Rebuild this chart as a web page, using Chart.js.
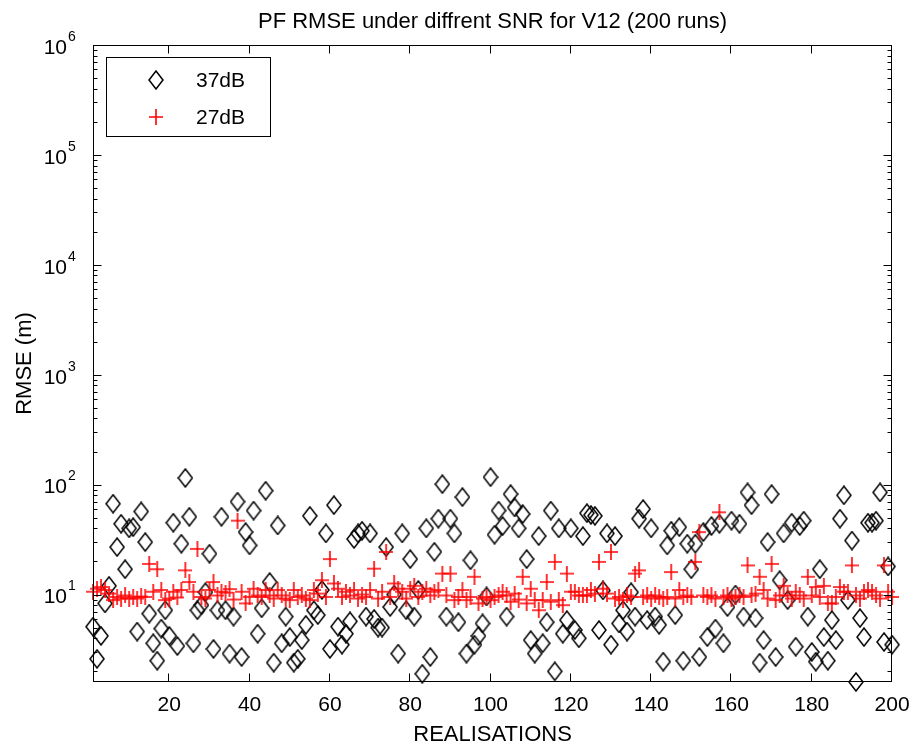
<!DOCTYPE html>
<html>
<head>
<meta charset="utf-8">
<script src="https://cdn.jsdelivr.net/npm/chart.js@4/dist/chart.umd.min.js"></script>
<style>
  html, body { margin: 0; padding: 0; background: #fff; }
  #c { display: block; }
</style>
</head>
<body>
<canvas id="c" width="920" height="751"></canvas>
<script>
// Realisation index for each of the 200 runs
const runs = [];
for (let i = 1; i <= 200; i++) runs.push(i);

// RMSE per realisation, 37 dB SNR
const rmse37 = [
  5.1, 2.6, 4.2, 8.3, 12, 67, 27, 44, 17, 40,
  41, 4.6, 57, 30, 6.7, 3.6, 2.5, 4.9, 7.2, 4.2,
  45, 3.4, 29, 115, 51, 3.6, 7.2, 8.0, 10.5, 23.5,
  3.2, 7.2, 51, 7.2, 2.9, 6.3, 70, 2.7, 37, 28,
  58, 4.4, 7.5, 88, 13, 2.4, 42.5, 3.6, 6.3, 4.1,
  2.4, 2.6, 3.85, 5.3, 52, 7.2, 6.5, 11, 36, 3.2,
  65, 5.1, 3.5, 4.4, 5.7, 32, 36, 38, 6.3, 36,
  6.0, 5.0, 5.0, 27, 7.7, 10, 2.9, 36, 7.2, 21,
  6.3, 11, 1.9, 40, 2.7, 24.5, 49, 101, 6.3, 49,
  36, 5.6, 77, 2.9, 20.5, 3.5, 4.2, 5.45, 9.6, 117,
  35, 58, 42, 6.3, 82, 62, 40, 54, 21, 3.85,
  2.9, 34, 3.6, 5.6, 58, 2.0, 40, 4.4, 5.85, 40,
  4.75, 4.0, 34, 55, 53, 52, 4.75, 10.9, 36, 3.5,
  34, 5.45, 7.2, 4.6, 10.5, 6.3, 49, 60, 5.85, 40,
  6.3, 5.3, 2.45, 28, 38, 6.5, 41, 2.5, 29, 17,
  29, 2.7, 37, 4.1, 42, 4.9, 44, 3.6, 7.7, 47,
  10, 44, 6.3, 85, 65, 6.1, 2.4, 3.85, 30, 82,
  2.7, 13.5, 36, 8.9, 45, 3.35, 42, 47, 6.3, 3.0,
  2.45, 17, 4.1, 2.5, 5.85, 3.85, 49, 80, 8.9, 31,
  1.6, 6.1, 4.1, 45, 45, 47, 85, 3.7, 18, 3.5
];

// RMSE per realisation, 27 dB SNR
const rmse27 = [
  10.6, 11.3, 11.7, 11.0, 10.2, 8.9, 9.5, 9.2, 9.8, 9.2,
  9.5, 9.2, 9.6, 9.5, 19, 10.6, 17, 11.0, 8.9, 9.2,
  10.6, 9.4, 11.0, 16.6, 13, 10.6, 26, 9.5, 9.2, 11.0,
  13, 9.8, 10.6, 10.4, 11.2, 9.0, 47, 10.6, 8.3, 9.5,
  11.3, 9.8, 9.5, 11.0, 9.8, 9.2, 11.0, 9.8, 9.2, 8.9,
  11.0, 9.5, 9.8, 9.2, 8.9, 11.0, 10.2, 13.5, 9.5, 21,
  12.6, 11.3, 9.5, 10.6, 9.8, 11.0, 9.2, 10.0, 9.5, 11.0,
  17.2, 9.2, 10.6, 24.4, 9.5, 12.6, 11.3, 10.6, 9.2, 11.3,
  12.0, 9.5, 10.6, 11.3, 9.8, 10.6, 11.0, 15.5, 9.8, 15.5,
  8.9, 9.5, 11.0, 8.9, 9.5, 14.5, 8.3, 9.2, 9.5, 8.9,
  9.5, 9.8, 10.6, 9.8, 8.6, 10.2, 9.0, 14.5, 8.3, 11.3,
  8.9, 7.2, 8.9, 13, 8.6, 19.8, 8.9, 8.0, 15.5, 10.6,
  10.6, 9.8, 9.8, 9.8, 11.0, 10.2, 19.8, 11.3, 10.2, 24.4,
  9.2, 9.5, 8.9, 9.8, 9.5, 15.5, 16.6, 9.5, 9.8, 9.2,
  9.8, 9.5, 9.2, 9.5, 16, 9.2, 11.0, 9.5, 9.8, 9.5,
  19.8, 37, 9.8, 9.5, 9.8, 9.2, 56, 9.5, 9.8, 9.2,
  9.5, 9.8, 9.5, 18.4, 9.8, 10.2, 14.5, 11.0, 9.2, 19,
  8.9, 9.8, 12.0, 9.8, 9.2, 10.6, 9.8, 9.2, 14.5, 9.8,
  11.7, 9.5, 12.0, 8.3, 8.3, 9.5, 11.7, 10.6, 10.6, 18.4,
  9.8, 9.2, 10.6, 11.0, 10.6, 9.8, 9.2, 18.4, 10.6, 9.5
];

const seriesLabels = ['37dB', '27dB'];
const xTickValues = [20, 40, 60, 80, 100, 120, 140, 160, 180, 200];
const yDecades = [1, 2, 3, 4, 5, 6];
const titleText = 'PF RMSE under diffrent SNR for V12 (200 runs)';
const xTitle = 'REALISATIONS';
const yTitle = 'RMSE (m)';

const FONT = "'Liberation Sans', Arial, Helvetica, sans-serif";

// Marker glyphs: hollow tall diamond and plus
function diamondGlyph() {
  const c = document.createElement('canvas');
  c.width = 16; c.height = 20;
  const g = c.getContext('2d');
  g.strokeStyle = '#000';
  g.lineWidth = 1.5;
  g.beginPath();
  g.moveTo(8, 1); g.lineTo(15, 10); g.lineTo(8, 19); g.lineTo(1, 10);
  g.closePath();
  g.stroke();
  return c;
}
function plusGlyph() {
  const c = document.createElement('canvas');
  c.width = 14; c.height = 16;
  const g = c.getContext('2d');
  g.strokeStyle = '#ff0000';
  g.lineWidth = 1.6;
  g.beginPath();
  g.moveTo(0, 8); g.lineTo(14, 8);
  g.moveTo(7, 0); g.lineTo(7, 16);
  g.stroke();
  return c;
}
const diamond = diamondGlyph();
const plus = plusGlyph();

const toPoints = vals => vals.map((v, i) => ({ x: runs[i], y: v }));

// Box, inward ticks, power-of-ten labels and the legend
const matlabAxes = {
  id: 'matlabAxes',
  afterDatasetsDraw(chart) {
    const { ctx, chartArea: a, scales } = chart;
    const xs = scales.x, ys = scales.y;
    const L = Math.round(a.left) + 0.5, R = Math.round(a.right) - 0.5;
    const T = Math.round(a.top) + 0.5, B = Math.round(a.bottom) - 0.5;
    ctx.save();
    ctx.strokeStyle = '#000';
    ctx.lineWidth = 1;
    ctx.strokeRect(L, T, R - L, B - T);
    ctx.beginPath();
    xTickValues.forEach(v => {
      const px = Math.round(xs.getPixelForValue(v)) - 0.5;
      ctx.moveTo(px, B); ctx.lineTo(px, B - 8);
      ctx.moveTo(px, T); ctx.lineTo(px, T + 8);
    });
    for (let e = 0; e <= 6; e++) {
      for (let m = 1; m <= 9; m++) {
        const v = m * Math.pow(10, e);
        if (v < ys.min || v > ys.max) continue;
        const py = Math.round(ys.getPixelForValue(v)) + 0.5;
        const len = m === 1 ? 8 : 4;
        ctx.moveTo(L, py); ctx.lineTo(L + len, py);
        ctx.moveTo(R, py); ctx.lineTo(R - len, py);
      }
    }
    ctx.stroke();

    // y labels: 10 with raised exponent
    ctx.fillStyle = '#000';
    yDecades.forEach(k => {
      const py = ys.getPixelForValue(Math.pow(10, k));
      ctx.font = '21px ' + FONT;
      ctx.textAlign = 'right';
      ctx.textBaseline = 'middle';
      ctx.fillText('10', 67, py + 3);
      ctx.font = '14px ' + FONT;
      ctx.textAlign = 'left';
      ctx.fillText(String(k), 68, py - 8);
    });

    // legend
    const lx = 106.5, ly = 57.5, lw = 164, lh = 79;
    ctx.fillStyle = '#fff';
    ctx.fillRect(lx, ly, lw, lh);
    ctx.strokeRect(lx, ly, lw, lh);
    const glyphs = [diamond, plus];
    const rows = [80, 117];
    chart.data.datasets.forEach((ds, i) => {
      const g = glyphs[i];
      ctx.drawImage(g, 156 - g.width / 2, rows[i] - g.height / 2);
      ctx.fillStyle = '#000';
      ctx.font = '21px ' + FONT;
      ctx.textAlign = 'left';
      ctx.textBaseline = 'middle';
      ctx.fillText(ds.label, 196, rows[i] + 1);
    });
    ctx.restore();
  }
};

new Chart(document.getElementById('c'), {
  type: 'scatter',
  data: {
    datasets: [
      { label: seriesLabels[0], data: toPoints(rmse37), pointStyle: diamond, pointRadius: 8, order: 2, clip: false },
      { label: seriesLabels[1], data: toPoints(rmse27), pointStyle: plus, pointRadius: 8, order: 1, clip: false }
    ]
  },
  options: {
    responsive: false,
    animation: false,
    devicePixelRatio: 1,
    events: [],
    layout: { padding: { top: 0, right: 23, bottom: 0, left: 0 } },
    plugins: {
      legend: { display: false },
      tooltip: { enabled: false },
      title: {
        display: true,
        fullSize: false,
        text: titleText,
        color: '#000',
        font: { family: FONT, size: 22, weight: 'normal' },
        padding: { top: 8.6, bottom: 10 }
      }
    },
    scales: {
      x: {
        type: 'linear',
        min: 1,
        max: 200,
        grid: { display: false, drawTicks: false },
        border: { display: false },
        afterBuildTicks: s => { s.ticks = xTickValues.map(v => ({ value: v })); },
        afterFit: s => { s.height = 69; },
        ticks: {
          color: '#000',
          font: { family: FONT, size: 21 },
          padding: 10.4,
          maxRotation: 0,
          autoSkip: false
        },
        title: {
          display: true,
          text: xTitle,
          color: '#000',
          font: { family: FONT, size: 22 },
          padding: { top: 0, bottom: 2.8 }
        }
      },
      y: {
        type: 'logarithmic',
        min: 1.6,
        max: 1e6,
        grid: { display: false, drawTicks: false },
        border: { display: false },
        ticks: { display: false },
        afterFit: s => { s.width = 93; },
        title: {
          display: true,
          text: yTitle,
          color: '#000',
          font: { family: FONT, size: 22 },
          padding: { top: 11.8, bottom: 0 }
        }
      }
    }
  },
  plugins: [matlabAxes]
});
</script>
</body>
</html>
